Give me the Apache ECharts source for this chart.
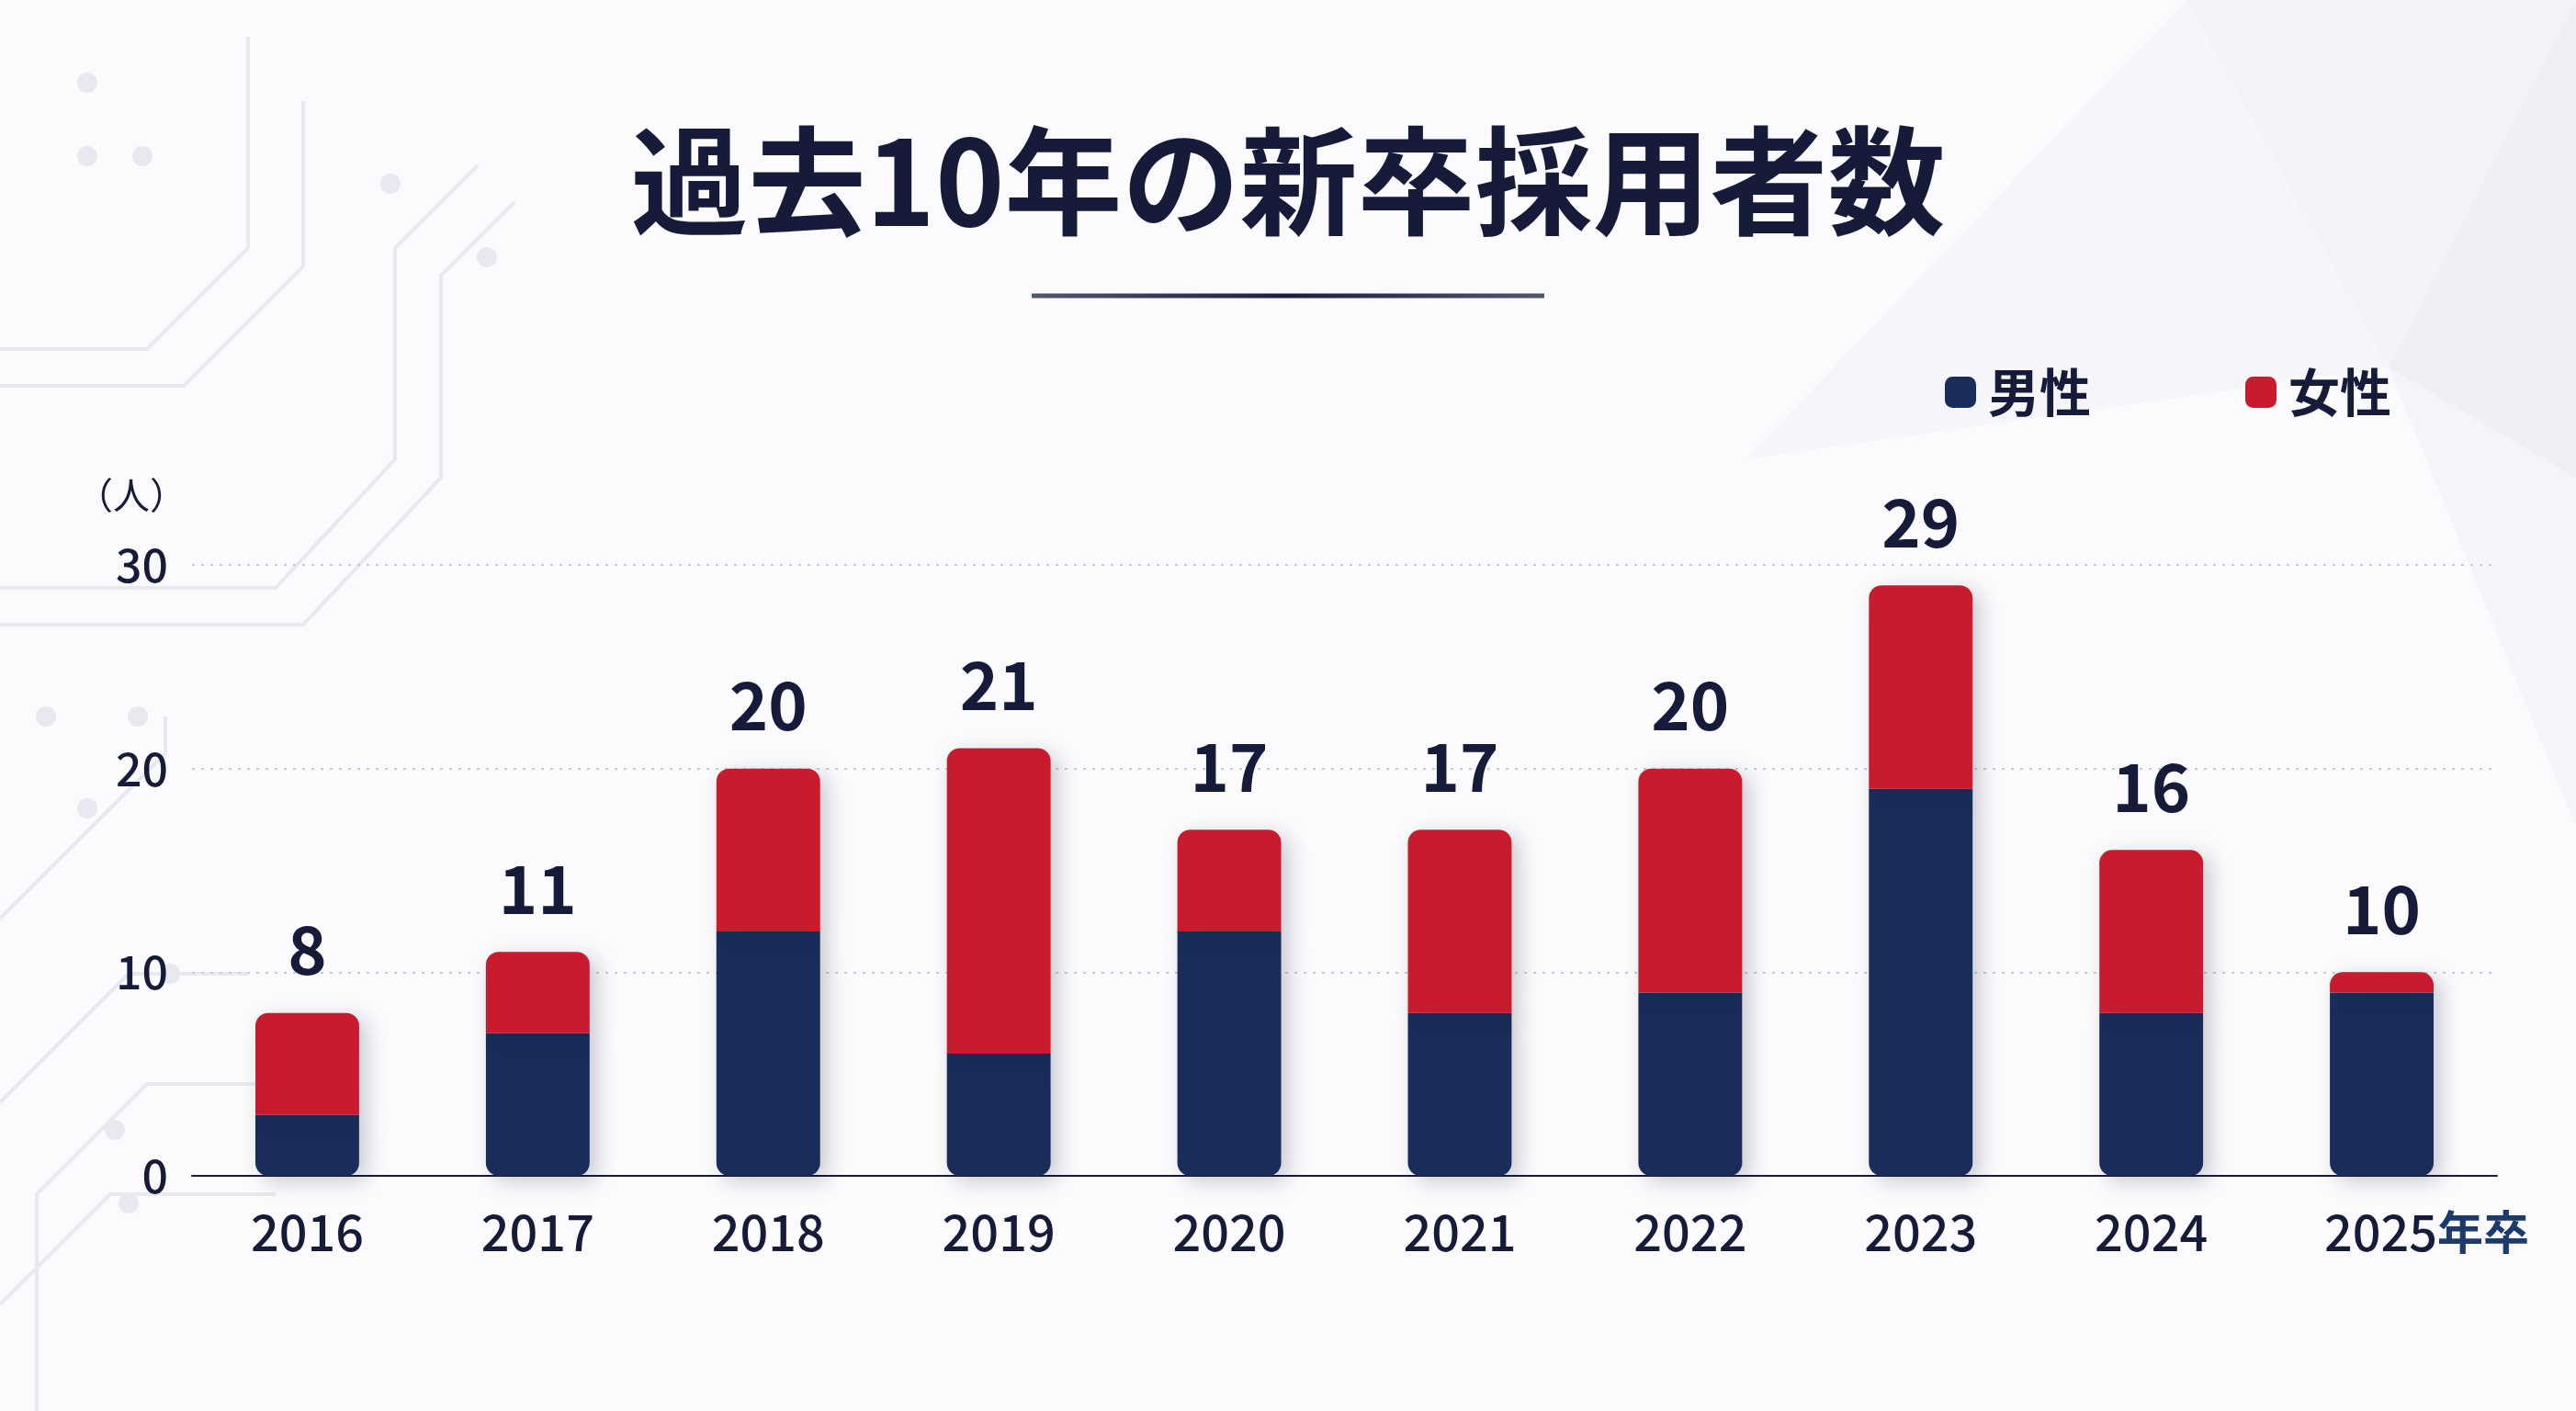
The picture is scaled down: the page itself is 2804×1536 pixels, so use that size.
<!DOCTYPE html>
<html>
<head>
<meta charset="utf-8">
<script src="https://cdn.jsdelivr.net/npm/echarts@6/dist/echarts.min.js"></script>
<style>
  html, body { margin: 0; padding: 0; background: #fbfbfd; }
  #chart { width: 2804px; height: 1536px; }
</style>
</head>
<body>
<div id="chart"></div>
<script>
  // データ
  const years = ['2016', '2017', '2018', '2019', '2020', '2021', '2022', '2023', '2024', '2025年卒']
  const male = [3, 7, 12, 6, 12, 8, 9, 19, 8, 9]
  const female = [5, 4, 8, 15, 5, 9, 11, 10, 8, 1]
  const totals = [8, 11, 20, 21, 17, 17, 20, 29, 16, 10]
  const yTicks = [0, 10, 20, 30]

  const NAVY = '#1a2d5a'
  const RED = '#c91b2e'
  const INK = '#161b3a'
  const FONT = "'Noto Sans CJK JP', 'Noto Sans', sans-serif"

  const chart = echarts.init(document.getElementById('chart'))

  // 背景の回路風の飾り線
  const deco = '#e8e9f0'
  const decoLines = [
    [[0, 680], [330, 680], [480, 520], [480, 300], [560, 220]],
    [[0, 640], [300, 640], [430, 500], [430, 270], [520, 180]],
    [[0, 420], [200, 420], [330, 290], [330, 110]],
    [[0, 380], [160, 380], [270, 270], [270, 40]],
    [[0, 1200], [140, 1060], [270, 1060]],
    [[0, 1000], [180, 820], [180, 780]],
    [[40, 1536], [40, 1300], [160, 1180], [300, 1180]],
    [[0, 1420], [120, 1300], [300, 1300]]
  ]
  const decoDots = [[95, 170], [155, 170], [425, 200], [530, 280], [50, 780], [150, 780], [95, 880], [185, 1060], [125, 1230], [140, 1310], [95, 90]]

  const graphics = []
  decoLines.forEach((pts) => {
    graphics.push({
      type: 'polyline',
      silent: true,
      z: -10,
      shape: { points: pts },
      style: { stroke: deco, lineWidth: 4, fill: null }
    })
  })
  decoDots.forEach((p) => {
    graphics.push({
      type: 'circle',
      silent: true,
      z: -10,
      shape: { cx: p[0], cy: p[1], r: 11 },
      style: { fill: deco }
    })
  })
  // 右上の多角形
  graphics.push({
    type: 'polygon', silent: true, z: -11,
    shape: { points: [[2380, 0], [2804, 0], [2804, 520], [2600, 400]] },
    style: { fill: 'rgba(215,217,232,0.22)' }
  })
  graphics.push({
    type: 'polygon', silent: true, z: -11,
    shape: { points: [[2600, 400], [2804, 0], [2804, 900]] },
    style: { fill: 'rgba(215,217,232,0.16)' }
  })
  graphics.push({
    type: 'polygon', silent: true, z: -11,
    shape: { points: [[1900, 500], [2380, 0], [2600, 400]] },
    style: { fill: 'rgba(215,217,232,0.12)' }
  })
  // タイトル下の線
  graphics.push({
    type: 'line', silent: true,
    shape: { x1: 1123, y1: 322, x2: 1681, y2: 322 },
    style: {
      lineWidth: 5,
      stroke: new echarts.graphic.LinearGradient(0, 0, 1, 0, [
        { offset: 0, color: 'rgba(26,31,61,0.75)' },
        { offset: 0.5, color: '#1a1f3d' },
        { offset: 1, color: 'rgba(26,31,61,0.75)' }
      ])
    }
  })

  const option = {
    backgroundColor: '#fbfbfd',
    textStyle: { fontFamily: FONT },
    title: {
      text: '過去10年の新卒採用者数',
      left: 'center',
      top: 128,
      textStyle: { fontSize: 128, fontWeight: 'bold', color: INK, fontFamily: FONT }
    },
    legend: {
      left: 2112,
      top: 394,
      itemWidth: 34,
      itemHeight: 34,
      itemGap: 168,
      icon: 'roundRect',
      textStyle: { fontSize: 56, fontWeight: 'bold', color: INK, padding: [0, 0, 0, 8] },
      data: ['男性', '女性']
    },
    grid: { left: 209, right: 86, top: 615, bottom: 256 },
    xAxis: {
      type: 'category',
      data: years,
      axisLine: { lineStyle: { color: INK, width: 2 } },
      axisTick: { show: false },
      axisLabel: {
        interval: 0,
        margin: 34,
        fontSize: 54,
        fontWeight: 500,
        color: INK,
        formatter: (v) => v.includes('年卒') ? '{p|}' + v.replace('年卒', '') + '{s|年卒}' : v,
        rich: {
          p: { width: 98 },
          s: { fontSize: 50, color: '#1d3a6c', fontWeight: 'bold' }
        }
      }
    },
    yAxis: {
      type: 'value',
      min: yTicks[0],
      max: yTicks[yTicks.length - 1],
      interval: 10,
      name: '（人）',
      nameLocation: 'end',
      nameGap: 56,
      nameTextStyle: { fontSize: 40, color: INK, align: 'right', padding: [0, 6, 0, 0] },
      axisLine: { show: false },
      axisTick: { show: false },
      axisLabel: { margin: 26, fontSize: 50, fontWeight: 500, color: INK },
      splitLine: { show: true, lineStyle: { color: '#c9cad3', width: 2, type: [3, 7] } }
    },
    series: [
      {
        name: '男性',
        type: 'bar',
        stack: 'total',
        barWidth: '45%',
        data: male,
        itemStyle: {
          color: NAVY,
          borderRadius: [0, 0, 14, 14],
          shadowColor: 'rgba(20,25,60,0.22)',
          shadowBlur: 22,
          shadowOffsetX: 8,
          shadowOffsetY: 6
        }
      },
      {
        name: '女性',
        type: 'bar',
        stack: 'total',
        barWidth: '45%',
        data: female,
        itemStyle: {
          color: RED,
          borderRadius: [14, 14, 0, 0],
          shadowColor: 'rgba(20,25,60,0.22)',
          shadowBlur: 22,
          shadowOffsetX: 8,
          shadowOffsetY: 6
        },
        label: {
          show: true,
          position: 'top',
          distance: 33,
          fontSize: 72,
          fontWeight: 'bold',
          color: INK,
          formatter: (p) => totals[p.dataIndex]
        }
      }
    ],
    graphic: graphics
  }

  chart.setOption(option)
</script>
</body>
</html>
